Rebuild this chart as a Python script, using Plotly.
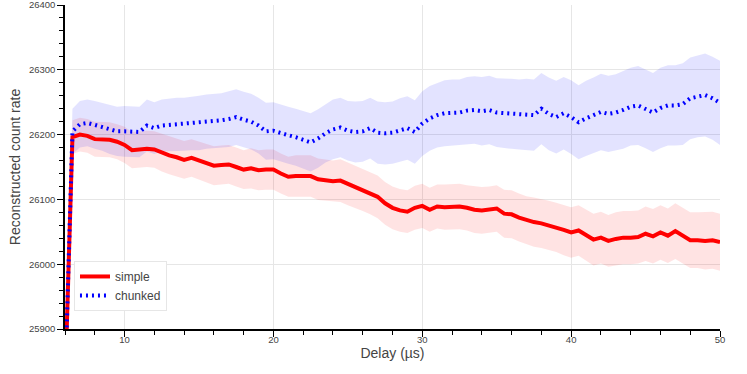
import plotly.graph_objects as go

delay = [6.0, 6.5, 7.0, 7.5, 8.0, 8.5, 9.0, 9.5, 10.0,
         10.5, 11.0, 11.5, 12.0, 12.5, 13.0, 13.5, 14.0, 14.5, 15.0,
         15.5, 16.0, 16.5, 17.0, 17.5, 18.0, 18.5, 19.0, 19.5, 20.0,
         20.5, 21.0, 21.5, 22.0, 22.5, 23.0, 23.5, 24.0, 24.5, 25.0,
         25.5, 26.0, 26.5, 27.0, 27.5, 28.0, 28.5, 29.0, 29.5, 30.0,
         30.5, 31.0, 31.5, 32.0, 32.5, 33.0, 33.5, 34.0, 34.5, 35.0,
         35.5, 36.0, 36.5, 37.0, 37.5, 38.0, 38.5, 39.0, 39.5, 40.0,
         40.5, 41.0, 41.5, 42.0, 42.5, 43.0, 43.5, 44.0, 44.5, 45.0,
         45.5, 46.0, 46.5, 47.0, 47.5, 48.0, 48.5, 49.0, 49.5, 50.0]

simple = [25810, 26196, 26200, 26198, 26193, 26192, 26192, 26189, 26184,
          26176, 26177, 26178, 26177, 26172, 26168, 26165, 26161, 26164, 26160,
          26156, 26152, 26153, 26154, 26150, 26146, 26148, 26145, 26146, 26146,
          26140, 26135, 26136, 26136, 26136, 26131, 26130, 26128, 26129, 26124,
          26120, 26115, 26110, 26104, 26094, 26087, 26083, 26081, 26087, 26090,
          26084, 26089, 26088, 26089, 26089, 26087, 26084, 26083, 26084, 26086,
          26078, 26077, 26072, 26068, 26065, 26063, 26060, 26057, 26053, 26049,
          26052, 26045, 26038, 26041, 26036, 26039, 26041, 26041, 26042, 26047,
          26043, 26049, 26044, 26051, 26044, 26037, 26037, 26036, 26037, 26034]

simple_err = [25, 26, 26, 26, 27, 27, 27, 27, 28,
              28, 28, 28, 28, 29, 29, 29, 29, 29, 29,
              30, 30, 30, 30, 30, 30, 31, 31, 31, 31,
              31, 31, 32, 32, 32, 32, 32, 32, 33, 33,
              33, 33, 33, 33, 33, 33, 33, 33, 34, 34,
              34, 34, 35, 35, 35, 35, 36, 36, 36, 36,
              37, 37, 37, 37, 38, 38, 38, 38, 39, 39,
              39, 39, 40, 40, 40, 41, 41, 41, 41, 42,
              42, 42, 42, 43, 43, 43, 43, 44, 44, 44]

chunked = [25810, 26205, 26216, 26218, 26215, 26212, 26208, 26205, 26205,
           26205, 26204, 26214, 26210, 26214, 26215, 26216, 26216, 26217, 26218,
           26220, 26221, 26222, 26224, 26227, 26223, 26220, 26214, 26205, 26206,
           26202, 26199, 26196, 26192, 26188, 26194, 26202, 26208, 26211, 26206,
           26204, 26205, 26210, 26203, 26202, 26203, 26207, 26210, 26204, 26217,
           26225, 26230, 26233, 26234, 26234, 26237, 26238, 26236, 26238, 26234,
           26233, 26232, 26231, 26231, 26230, 26240, 26232, 26227, 26233, 26227,
           26219, 26225, 26230, 26235, 26232, 26234, 26238, 26243, 26245, 26240,
           26234, 26241, 26245, 26245, 26247, 26256, 26259, 26261, 26256, 26249]

chunked_err = [25, 35, 36, 36, 37, 37, 38, 38, 39,
               39, 39, 40, 40, 40, 41, 41, 41, 41, 42,
               42, 42, 42, 43, 43, 43, 43, 43, 44, 44,
               44, 44, 44, 44, 45, 45, 45, 46, 46, 46,
               47, 47, 47, 48, 48, 48, 49, 49, 49, 50,
               50, 50, 51, 51, 51, 52, 52, 53, 53, 53,
               54, 54, 54, 55, 55, 55, 56, 56, 56, 57,
               57, 58, 58, 59, 59, 59, 60, 60, 61, 61,
               61, 62, 62, 62, 63, 63, 63, 64, 64, 65]

x_range = [6, 50]
y_range = [25900, 26400]

FONT = "Liberation Sans, Arial, sans-serif"
TXT = "#444444"

fig = go.Figure()


def band(y, err, color):
    lo = [v - e for v, e in zip(y, err)]
    hi = [v + e for v, e in zip(y, err)]
    fig.add_trace(go.Scatter(x=delay, y=lo, mode="lines", line=dict(width=0),
                             showlegend=False, hoverinfo="skip"))
    fig.add_trace(go.Scatter(x=delay, y=hi, mode="lines", line=dict(width=0),
                             fill="tonexty", fillcolor=color,
                             showlegend=False, hoverinfo="skip"))


band(simple, simple_err, "rgba(255,0,0,0.11)")
band(chunked, chunked_err, "rgba(0,0,255,0.11)")

fig.add_trace(go.Scatter(x=delay, y=simple, mode="lines", name="simple",
                         legendgroup="a",
                         line=dict(color="#ff0000", width=4)))
fig.add_trace(go.Scatter(x=delay, y=chunked, mode="lines", name="chunked",
                         legendgroup="b",
                         line=dict(color="#0000ff", width=4, dash="2px,4px")))

axis_common = dict(
    showline=True, linecolor="black", linewidth=1.5,
    ticks="outside", ticklen=6, tickcolor="black", tickwidth=1,
    showgrid=True, gridcolor="#e6e6e6", gridwidth=1,
    zeroline=False, automargin=False, ticklabeloverflow="allow",
    tickfont=dict(family=FONT, size=9.5, color=TXT),
)

fig.update_xaxes(range=x_range, tick0=0, dtick=10,
                 minor=dict(dtick=2, ticks="outside", ticklen=4,
                            tickcolor="black", showgrid=False),
                 title=dict(text="Delay (µs)", standoff=3,
                            font=dict(family=FONT, size=14, color=TXT)),
                 ticklabelstandoff=-5,
                 **axis_common)
fig.update_yaxes(range=y_range, tick0=0, dtick=100, tickformat="d",
                 minor=dict(dtick=20, ticks="outside", ticklen=4,
                            tickcolor="black", showgrid=False),
                 title=dict(text="Reconstructed count rate", standoff=5,
                            font=dict(family=FONT, size=14, color=TXT)),
                 **axis_common)

fig.update_layout(
    width=747, height=374,
    margin=dict(l=65, r=27, t=5, b=45),
    plot_bgcolor="white", paper_bgcolor="white",
    font=dict(family=FONT, color=TXT),
    legend=dict(x=0.0137, y=0.21, xanchor="left", yanchor="top",
                traceorder="normal", tracegroupgap=3,
                bgcolor="white", bordercolor="#e6e6e6", borderwidth=1,
                font=dict(family=FONT, size=12, color=TXT)),
)

fig.write_html("out.html",
               config={"displayModeBar": False},
               post_script="document.body.style.margin='0';")
